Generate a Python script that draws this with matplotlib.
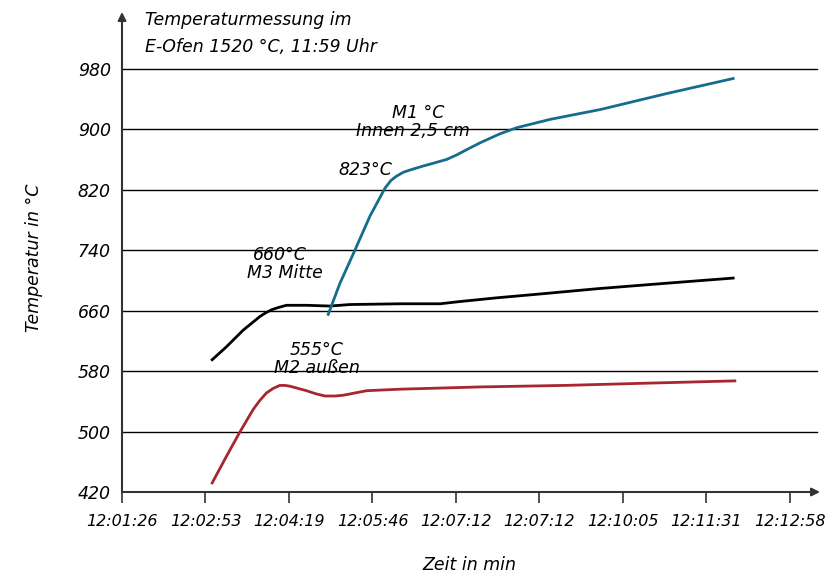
import matplotlib.pyplot as plt

plt.rcParams['font.family'] = ['DejaVu Sans']
plt.rcParams['font.style'] = 'italic'

# x positions in tick units (0 = first tick label)
tick_labels = ['12:01:26', '12:02:53', '12:04:19', '12:05:46', '12:07:12',
               '12:07:12', '12:10:05', '12:11:31', '12:12:58']
y_ticks = [420, 500, 580, 660, 740, 820, 900, 980]

# M1 Innen 2,5 cm (blau)
m1_x = [2.47, 2.61, 2.79, 2.97, 3.15, 3.22, 3.29, 3.37, 3.45, 3.60, 3.73, 3.89, 4.01, 4.13, 4.29,
        4.37, 4.53, 4.73, 5.13, 5.73, 6.52, 7.32]
m1_y = [655, 696, 740, 785, 822, 832, 838, 843, 846, 851, 855, 860, 866, 873, 882,
        886, 894, 902, 913, 926, 947, 967]

# M3 Mitte (schwarz)
m3_x = [1.08, 1.25, 1.45, 1.65, 1.72, 1.79, 1.87, 1.97, 2.21, 2.49, 2.73, 3.33, 3.81, 4.05,
        4.50, 5.01, 5.70, 6.50, 7.32]
m3_y = [595, 612, 634, 652, 657, 661, 664, 667, 667, 666, 668, 669, 669, 672,
        677, 682, 689, 696, 703]

# M2 außen (rot)
m2_x = [1.08, 1.25, 1.41, 1.57, 1.65, 1.73, 1.81, 1.89, 1.95, 2.01, 2.11, 2.21, 2.32, 2.43,
        2.55, 2.65, 2.93, 3.33, 4.29, 5.30, 6.30, 7.34]
m2_y = [432, 467, 499, 529, 541, 551, 557, 561, 561, 560, 557, 554, 550, 547,
        547, 548, 554, 556, 559, 561, 564, 567]

fig = plt.figure(figsize=(8.34, 5.77), dpi=100)
ax = fig.add_axes([122/834, 85/577, 698/834, 480/577])
ax.set_xlim(0, 8.36)
ax.set_ylim(420, 1055)

for y in y_ticks[1:]:
    ax.plot([0, 8.33], [y, y], color='black', lw=1.0, zorder=1)

ax.plot(m2_x, m2_y, color='#a8262f', lw=2, zorder=3, solid_joinstyle='round')
ax.plot(m3_x, m3_y, color='black', lw=2, zorder=3, solid_joinstyle='round')
ax.plot(m1_x, m1_y, color='#166c8c', lw=2, zorder=4, solid_joinstyle='round')

for s in ax.spines.values():
    s.set_visible(False)
ax.annotate('', xy=(0, 1), xytext=(0, 0), xycoords='axes fraction',
            arrowprops=dict(arrowstyle='-|>', color='#333333', lw=1.5, mutation_scale=12, shrinkA=0, shrinkB=0))
ax.annotate('', xy=(1, 0), xytext=(0, 0), xycoords='axes fraction',
            arrowprops=dict(arrowstyle='-|>', color='#333333', lw=1.5, mutation_scale=12, shrinkA=0, shrinkB=0))

ax.set_xticks(range(len(tick_labels)))
ax.set_xticklabels(tick_labels, fontsize=11.5)
ax.tick_params(axis='x', length=8, width=1.2, color='#333333', pad=8)
ax.set_yticks(y_ticks)
ax.set_yticklabels([str(v) for v in y_ticks], fontsize=12.5)
ax.tick_params(axis='y', length=0, pad=8)

fig.text(469/834, 1 - 565/577, 'Zeit in min', fontsize=12.5, ha='center', va='center')
fig.text(34/834, 1 - 258/577, 'Temperatur in °C', fontsize=12.5, ha='center', va='center', rotation=90)

fig.text(145/834, 1 - 20/577, 'Temperaturmessung im', fontsize=12.5, va='center')
fig.text(145/834, 1 - 47/577, 'E-Ofen 1520 °C, 11:59 Uhr', fontsize=12.5, va='center')

ax.text(3.545, 921.7, 'M1 °C', fontsize=12.5, ha='center', va='center')
ax.text(3.485, 897.9, 'Innen 2,5 cm', fontsize=12.5, ha='center', va='center')
ax.text(2.91, 846.3, '823°C', fontsize=12.5, ha='center', va='center')
ax.text(1.892, 733.7, '660°C', fontsize=12.5, ha='center', va='center')
ax.text(1.952, 709.9, 'M3 Mitte', fontsize=12.5, ha='center', va='center')
ax.text(2.335, 608, '555°C', fontsize=12.5, ha='center', va='center')
ax.text(2.335, 584, 'M2 außen', fontsize=12.5, ha='center', va='center')

fig.savefig('out.png', dpi=100)
